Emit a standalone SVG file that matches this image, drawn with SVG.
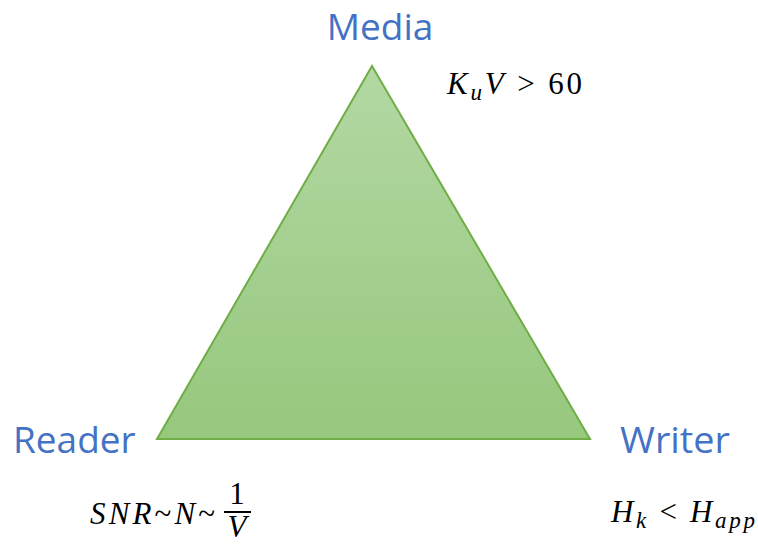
<svg xmlns="http://www.w3.org/2000/svg" width="758" height="544" viewBox="0 0 758 544">
<defs>
<linearGradient id="g" x1="0" y1="0" x2="0" y2="1">
<stop offset="0" stop-color="#b3d8a3"/>
<stop offset="1" stop-color="#96c87d"/>
</linearGradient>
<style>
.lbl{font-family:"Open Sans","Liberation Sans",sans-serif;font-size:37px;fill:#4472c4}
.m{font-family:"Liberation Serif",serif;font-style:italic;font-size:31px;fill:#000}
.n{font-family:"Liberation Serif",serif;font-size:31px;fill:#000}
.s{font-family:"Liberation Serif",serif;font-style:italic;font-size:23px;fill:#000}
</style>
</defs>
<rect width="758" height="544" fill="#fff"/>
<g id="triangle">
<polygon points="372,66 157,439 590,439" fill="url(#g)" stroke="#70ad47" stroke-width="2" stroke-linejoin="miter"/>
</g>
<g id="media">
<text class="lbl" x="380" y="40" text-anchor="middle">Media</text>
<text x="447" y="94" textLength="135" lengthAdjust="spacing"><tspan class="m">K</tspan><tspan class="s" dy="6">u</tspan><tspan class="m" dy="-6">V</tspan><tspan class="n"> &gt; 60</tspan></text>
</g>
<g id="reader">
<text class="lbl" x="13" y="453">Reader</text>
<text x="90" y="524" textLength="125" lengthAdjust="spacing"><tspan class="m">SNR</tspan><tspan class="n">~</tspan><tspan class="m">N</tspan><tspan class="n">~</tspan></text>
<text class="n" x="237" y="504" text-anchor="middle">1</text>
<line x1="224" y1="512" x2="251" y2="512" stroke="#000" stroke-width="2"/>
<text class="m" x="237" y="537" text-anchor="middle">V</text>
</g>
<g id="writer">
<text class="lbl" x="620" y="453" textLength="110" lengthAdjust="spacingAndGlyphs">Writer</text>
<text x="611" y="522" textLength="144" lengthAdjust="spacing"><tspan class="m">H</tspan><tspan class="s" dy="6">k</tspan><tspan class="n" dy="-6"> &lt; </tspan><tspan class="m">H</tspan><tspan class="s" dy="6">app</tspan></text>
</g>
<g id="connectors"/>
</svg>
